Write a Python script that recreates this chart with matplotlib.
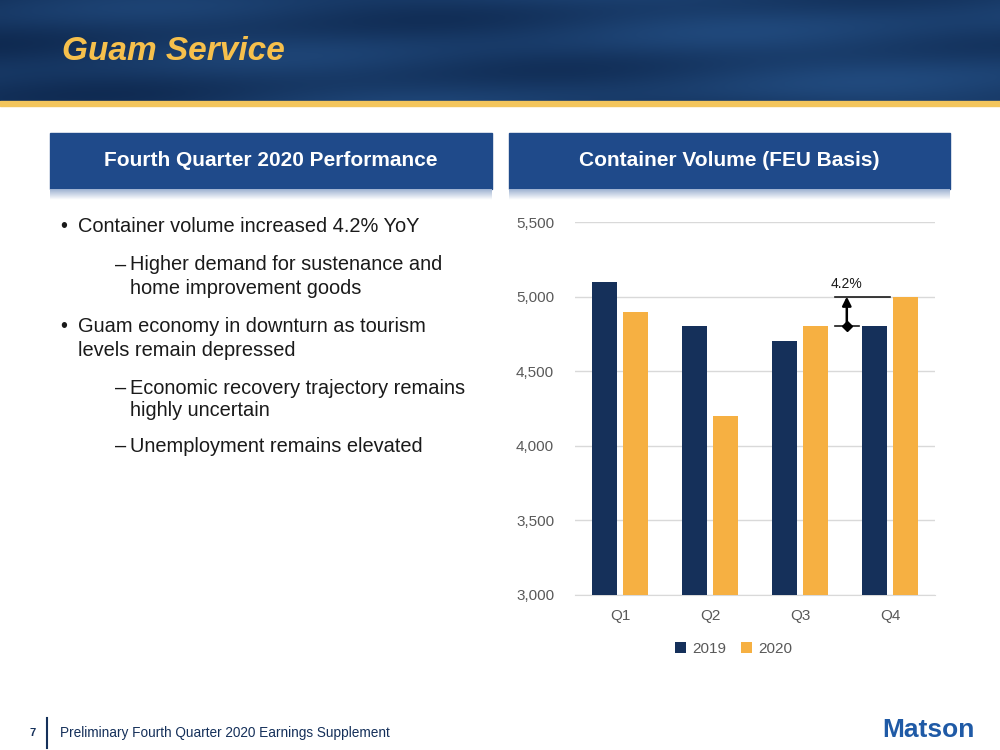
import numpy as np
import matplotlib.pyplot as plt
from matplotlib.patches import Rectangle

plt.rcParams['font.family'] = ['Liberation Sans', 'DejaVu Sans']

quarters = ['Q1', 'Q2', 'Q3', 'Q4']
vol_2019 = [5100, 4800, 4700, 4800]
vol_2020 = [4900, 4200, 4800, 5000]
yticks = [3000, 3500, 4000, 4500, 5000, 5500]

navy = '#15305a'
gold = '#f6b042'
box_blue = '#1f4a8a'
txt_col = '#1a1a1a'

W, H = 1000, 750
fig = plt.figure(figsize=(10, 7.5), dpi=100)

# background layer in pixel coords
bg = fig.add_axes([0, 0, 1, 1])
bg.set_xlim(0, W)
bg.set_ylim(H, 0)
bg.axis('off')

# header band (simple wavy gradient)
xx, yy = np.meshgrid(np.linspace(0, 1, 400), np.linspace(0, 1, 80))
shade = 0.45 + 0.25 * np.sin(xx * 9 + yy * 4) * np.cos(yy * 7 - xx * 3) + 0.2 * xx
c1 = np.array([0.04, 0.13, 0.27])
c2 = np.array([0.14, 0.31, 0.52])
img = c1 + (c2 - c1) * np.clip(shade, 0, 1)[..., None]
bg.imshow(img, extent=(0, W, 101, 0), aspect='auto', zorder=1)
bg.add_patch(Rectangle((0, 101), W, 5, color='#f3c55c', zorder=2))
bg.text(62, 52, 'Guam Service', color='#f6c04c', fontsize=24, fontweight='bold',
        fontstyle='italic', va='center', ha='left', zorder=3)

# section header boxes
for x0, x1, label in [(50, 492, 'Fourth Quarter 2020 Performance'),
                      (509, 950, 'Container Volume (FEU Basis)')]:
    bg.add_patch(Rectangle((x0, 133), x1 - x0, 56, color=box_blue, zorder=2))
    grad = np.linspace(0, 1, 20)[:, None, None]
    strip = np.array([0.62, 0.70, 0.82]) * (1 - grad) + np.array([1, 1, 1]) * grad
    bg.imshow(np.repeat(strip, 10, axis=1), extent=(x0, x1, 200, 189), aspect='auto', zorder=2)
    bg.text((x0 + x1) / 2, 161, label, color='white', fontsize=15, fontweight='bold',
            ha='center', va='center', zorder=3)

# bullets: (level, y of each line, lines)
bullets = [
    (0, [225], ['Container volume increased 4.2% YoY']),
    (1, [263, 286], ['Higher demand for sustenance and', 'home improvement goods']),
    (0, [325, 348], ['Guam economy in downturn as tourism', 'levels remain depressed']),
    (1, [386, 408], ['Economic recovery trajectory remains', 'highly uncertain']),
    (1, [444], ['Unemployment remains elevated']),
]
for lvl, ys, lines in bullets:
    mark, mx, tx = ('•', 60, 78) if lvl == 0 else ('–', 115, 130)
    bg.text(mx, ys[0], mark, fontsize=14.4, va='center_baseline', ha='left', color=txt_col)
    for y, line in zip(ys, lines):
        bg.text(tx, y, line, fontsize=14.4, va='center_baseline', ha='left', color=txt_col)

# footer
bg.text(33, 733, '7', fontsize=8, fontweight='bold', color=navy, va='center', ha='center')
bg.plot([47, 47], [718, 748], color=navy, lw=1.5)
bg.text(60, 733, 'Preliminary Fourth Quarter 2020 Earnings Supplement', fontsize=9.8,
        color=navy, va='center', ha='left')
bg.text(975, 730, 'Matson', fontsize=19, fontweight='bold', color='#1f5aa6',
        va='center', ha='right')

# chart
ax = fig.add_axes([575 / W, 1 - 595 / H, 360 / W, (595 - 222) / H])
x = np.arange(len(quarters))
bw = 0.28
ax.bar(x - 0.17, vol_2019, bw, color=navy, label='2019', zorder=3)
ax.bar(x + 0.17, vol_2020, bw, color=gold, label='2020', zorder=3)
ax.set_xlim(-0.5, 3.5)
ax.set_ylim(3000, 5500)
ax.set_yticks(yticks)
ax.set_yticklabels([f'{v:,}' for v in yticks])
ax.set_xticks(x)
ax.set_xticklabels(quarters)
ax.grid(axis='y', color='#d9d9d9', lw=1, zorder=0)
for s in ['top', 'right', 'left']:
    ax.spines[s].set_visible(False)
ax.spines['bottom'].set_color('#d9d9d9')
ax.tick_params(length=0, labelsize=11, labelcolor='#595959', pad=10)
ax.tick_params(axis='y', pad=15)

# growth annotation
ax.plot([2.39, 3.0], [vol_2020[3], vol_2020[3]], color=txt_col, lw=1.2, zorder=4)
ax.plot([2.39, 2.66], [vol_2019[3], vol_2019[3]], color=txt_col, lw=1.2, zorder=4)
ax.annotate('', xy=(2.52, vol_2020[3]), xytext=(2.52, vol_2019[3]),
            arrowprops=dict(arrowstyle='-|>', color='black', lw=1.8, mutation_scale=13,
                            shrinkA=0, shrinkB=0), zorder=5)
ax.plot([2.52], [vol_2019[3]], marker='D', ms=5, color='black', zorder=5)
pct = (vol_2020[3] - vol_2019[3]) / vol_2019[3] * 100
ax.text(2.52, vol_2020[3] + 40, f'{pct:.1f}%', ha='center', va='bottom', fontsize=10, color=txt_col)

leg = ax.legend(loc='upper center', bbox_to_anchor=(0.44, -0.088), ncol=2, frameon=False,
                fontsize=11, handlelength=0.7, handleheight=0.7, columnspacing=1.0,
                handletextpad=0.4)
for t in leg.get_texts():
    t.set_color('#595959')

fig.savefig('out.png', dpi=100)
